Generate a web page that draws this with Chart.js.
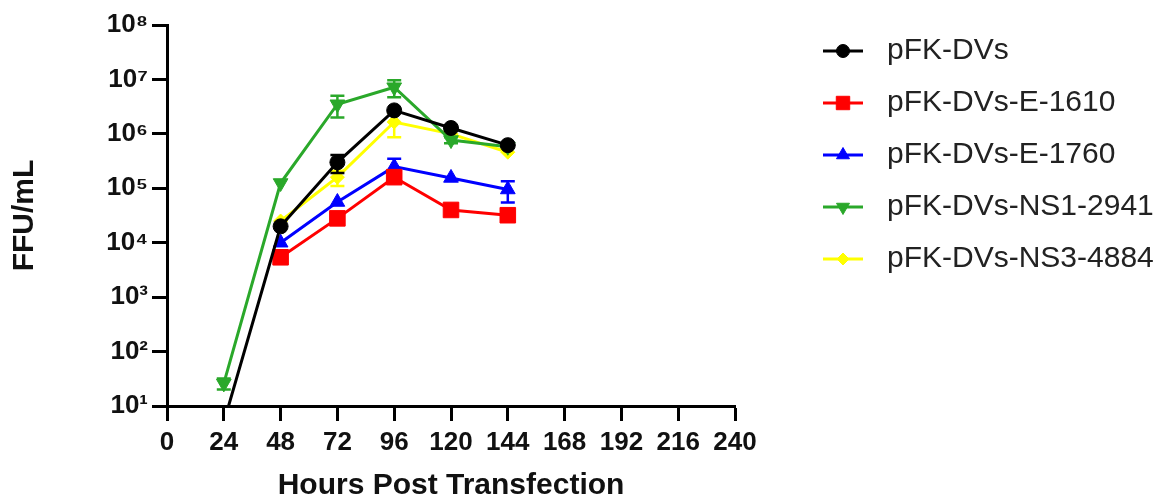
<!DOCTYPE html>
<html>
<head>
<meta charset="utf-8">
<script src="https://cdn.jsdelivr.net/npm/chart.js@4/dist/chart.umd.min.js"></script>
<style>
html,body{margin:0;padding:0;background:#fff;}
canvas{display:block;}
</style>
</head>
<body>
<canvas id="c" width="1174" height="504"></canvas>
<script>
// ---- data ----
const hours = [24, 48, 72, 96, 120, 144];
const xTickValues = [0, 24, 48, 72, 96, 120, 144, 168, 192, 216, 240];
const yTickValues = [1e1, 1e2, 1e3, 1e4, 1e5, 1e6, 1e7, 1e8];
const yTickLabels = ['10\u00B9', '10\u00B2', '10\u00B3', '10\u2074', '10\u2075', '10\u2076', '10\u2077', '10\u2078'];
const seriesNames = ['pFK-DVs', 'pFK-DVs-E-1610', 'pFK-DVs-E-1760', 'pFK-DVs-NS1-2941', 'pFK-DVs-NS3-4884'];

const dvs     = [5,    2.0e4, 3.0e5, 2.7e6,  1.28e6, 6.2e5];
const dvsSD   = [0,    0,     1.1e5, 0,      0,      0];
const e1610   = [null, 5.4e3, 2.8e4, 1.6e5,  4.0e4,  3.2e4];
const e1610SD = [0,    0,     0,     0,      0,      0];
const e1760   = [null, 1.0e4, 5.6e4, 2.5e5,  1.55e5, 9.5e4];
const e1760SD = [0,    0,     0,     1.0e5,  0,      4.0e4];
const ns1     = [26,   1.25e5, 3.5e6, 7.2e6, 7.7e5,  5.8e5];
const ns1SD   = [6,    0,     1.5e6, 2.5e6,  1.0e5,  0];
const ns3     = [null, 2.5e4, 1.6e5, 1.65e6, 1.0e6,  4.6e5];
const ns3SD   = [0,    0,     5.0e4, 7.8e5,  0,      0];

// ---- styles ----
const FONT = "'Liberation Sans', Arial, Helvetica, sans-serif";
const colors = ['#000000', '#ff0000', '#0000ff', '#2aa82a', '#ffff00'];
const styles = ['circle', 'rect', 'triangle', 'triangle', 'rectRot'];
const rotations = [0, 0, 0, 180, 0];
const radii = [7.5, 11, 8.5, 8.5, 7];
const legendRadii = [6.5, 9.5, 7.5, 7.5, 6];

const values = [dvs, e1610, e1760, ns1, ns3];
const sds = [dvsSD, e1610SD, e1760SD, ns1SD, ns3SD];

function toPoints(vals) {
  return hours.map((h, i) => ({ x: h, y: vals[i] }));
}

// legend icon: short line with the series marker in its middle
const ICON_W = 97, ICON_H = 30, LINE_START = 57;
function makeIcon(i) {
  const c = document.createElement('canvas');
  c.width = ICON_W; c.height = ICON_H;
  const g = c.getContext('2d');
  const cy = ICON_H / 2;
  g.strokeStyle = colors[i];
  g.fillStyle = colors[i];
  g.lineWidth = 3;
  g.beginPath(); g.moveTo(LINE_START, cy); g.lineTo(ICON_W, cy); g.stroke();
  g.lineWidth = 1;
  Chart.helpers.drawPoint(g, { pointStyle: styles[i], radius: legendRadii[i], rotation: rotations[i], borderWidth: 1 }, (LINE_START + ICON_W) / 2, cy);
  return c;
}

const errorBars = {
  id: 'errorBars',
  beforeDatasetDraw(chart, args) {
    const ds = chart.data.datasets[args.index];
    const sd = ds.sd;
    if (!sd) return;
    const { ctx, chartArea, scales } = chart;
    const xs = scales.x, ys = scales.y;
    ctx.save();
    ctx.beginPath();
    ctx.rect(chartArea.left, chartArea.top - 2, chartArea.right - chartArea.left, chartArea.bottom - chartArea.top + 2);
    ctx.clip();
    ctx.strokeStyle = ds.borderColor;
    ctx.lineWidth = 2.5;
    ds.data.forEach((p, i) => {
      const s = sd[i];
      if (!s || p.y == null) return;
      const px = xs.getPixelForValue(p.x);
      const top = ys.getPixelForValue(p.y + s);
      const hasLow = p.y - s > 0;
      const bot = hasLow ? ys.getPixelForValue(p.y - s) : chartArea.bottom;
      const w = 7;
      ctx.beginPath();
      ctx.moveTo(px, top); ctx.lineTo(px, bot);
      ctx.moveTo(px - w, top); ctx.lineTo(px + w, top);
      if (hasLow) { ctx.moveTo(px - w, bot); ctx.lineTo(px + w, bot); }
      ctx.stroke();
    });
    ctx.restore();
  }
};

const icons = seriesNames.map((_, i) => makeIcon(i));

const datasets = seriesNames.map((name, i) => ({
  label: name,
  data: toPoints(values[i]),
  sd: sds[i],
  borderColor: colors[i],
  backgroundColor: colors[i],
  borderWidth: 3,
  tension: 0,
  pointStyle: styles[i],
  pointRotation: rotations[i],
  pointRadius: radii[i],
  pointBorderWidth: 1,
  pointBackgroundColor: colors[i],
  pointBorderColor: colors[i],
  spanGaps: false
}));

const tickFont = { family: FONT, size: 26, weight: 'bold' };
const titleFont = { family: FONT, size: 30, weight: 'bold' };
const gridOpts = { drawOnChartArea: false, drawTicks: true, tickLength: 15, tickWidth: 3, tickColor: '#000' };
const borderOpts = { display: true, color: '#000', width: 3 };

new Chart(document.getElementById('c'), {
  type: 'line',
  data: { datasets },
  plugins: [errorBars],
  options: {
    responsive: false,
    animation: false,
    events: [],
    layout: { padding: { top: 14, right: 14, bottom: 0, left: 0 } },
    scales: {
      x: {
        type: 'linear',
        min: 0, max: 240,
        afterBuildTicks: s => { s.ticks = xTickValues.map(v => ({ value: v })); },
        afterFit: s => { s.height = 98; },
        ticks: { font: tickFont, color: '#111', padding: 6, maxRotation: 0, autoSkip: false },
        grid: gridOpts,
        border: borderOpts,
        title: { display: true, text: 'Hours Post Transfection', font: titleFont, color: '#111', padding: { top: 0, bottom: 0 } }
      },
      y: {
        type: 'logarithmic',
        min: 10, max: 1e8,
        afterBuildTicks: s => { s.ticks = yTickValues.map(v => ({ value: v })); },
        afterFit: s => { s.width = 167; s.paddingTop = 25; },
        ticks: { font: tickFont, color: '#111', padding: 4, autoSkip: false,
                 callback: (v, idx) => yTickLabels[idx] },
        grid: gridOpts,
        border: borderOpts,
        title: { display: true, text: 'FFU/mL', font: titleFont, color: '#111', padding: { top: 7, bottom: 0 } }
      }
    },
    plugins: {
      tooltip: { enabled: false },
      legend: {
        position: 'right',
        align: 'start',
        maxWidth: 425,
        labels: {
          usePointStyle: true,
          pointStyleWidth: 115,
          padding: 22,
          font: { family: FONT, size: 30 },
          color: '#222',
          generateLabels: chart => chart.data.datasets.map((ds, i) => ({
            text: ds.label,
            pointStyle: icons[i],
            fillStyle: ds.borderColor,
            strokeStyle: ds.borderColor,
            lineWidth: 0,
            fontColor: '#222',
            hidden: false,
            datasetIndex: i
          }))
        }
      }
    }
  }
});
</script>
</body>
</html>
